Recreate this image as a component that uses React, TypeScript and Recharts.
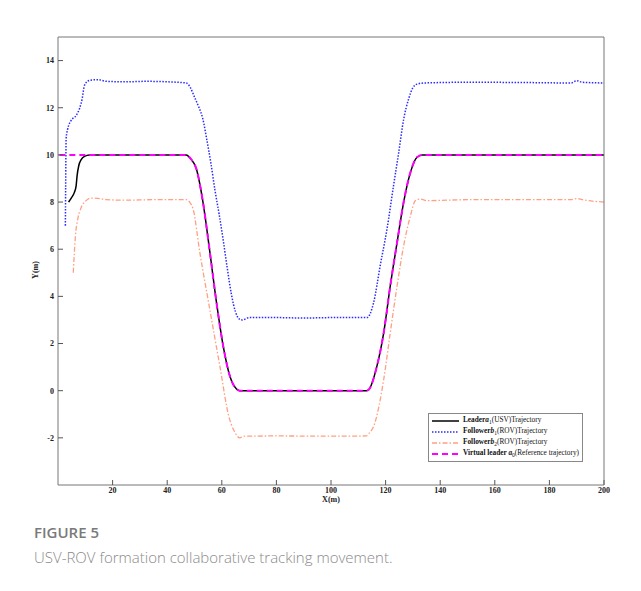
import { LineChart, Line, XAxis, YAxis, Legend } from 'recharts';

// Leader a1 (USV)
const leaderX = [3.9, 4.8, 6.0, 6.65, 7.0, 7.6, 8.5, 9.7, 11.5, 20, 30, 40, 47, 48.5, 50.7, 53.1, 55.6, 58.1, 60.5, 63, 65.4, 66.6, 70, 90, 113, 113.8, 116.8, 119.3, 121.7, 124.2, 126.6, 129.1, 131.5, 133.4, 150, 170, 200];
const leaderY = [8.0, 8.16, 8.41, 8.7, 9.12, 9.54, 9.8, 9.94, 10.0, 10.0, 10.0, 10.0, 10.0, 9.85, 9.4, 8.0, 5.9, 3.7, 1.9, 0.6, 0.07, 0, 0, 0, 0, 0.04, 1.03, 2.45, 4.44, 6.28, 7.99, 9.26, 9.9, 10.0, 10.0, 10.0, 10.0];

// Follower b1 (ROV)
const follower1X = [2.7, 2.8, 2.98, 3.56, 4.81, 6.65, 7.86, 8.85, 9.7, 11.5, 14.6, 17.7, 25, 32, 40, 47, 48.5, 50, 51.5, 53, 54.5, 56, 57.5, 59, 60.5, 62, 63.5, 65, 66.5, 67.5, 70, 80, 90, 100, 110, 113.2, 115.6, 118, 120.5, 122.9, 124.8, 126.6, 128.5, 130, 131.5, 134, 150, 170, 188, 190, 192, 200];
const follower1Y = [7.0, 8.6, 10.7, 11.1, 11.46, 11.67, 11.96, 12.38, 12.95, 13.16, 13.19, 13.12, 13.1, 13.12, 13.1, 13.05, 12.85, 12.45, 12.05, 11.55, 10.65, 9.65, 8.5, 7.5, 6.4, 5.2, 4.1, 3.35, 3.03, 3.0, 3.1, 3.1, 3.08, 3.1, 3.1, 3.1, 3.73, 5.29, 6.85, 8.69, 10.1, 11.5, 12.4, 12.85, 13.0, 13.05, 13.08, 13.07, 13.05, 13.15, 13.08, 13.05];

// Follower b2 (ROV)
const follower2X = [5.6, 6.39, 7.24, 8.49, 10.3, 12.2, 14.6, 17.7, 25, 35, 47, 48.5, 49.5, 51.9, 55.6, 59.3, 62.6, 64.5, 66.6, 68, 80, 100, 113, 114, 115.6, 119.3, 121.7, 124.2, 126.6, 129.1, 130.9, 132.7, 135.2, 150, 170, 188, 190, 192, 200];
const follower2Y = [5.0, 6.57, 7.28, 7.77, 8.06, 8.17, 8.16, 8.1, 8.08, 8.1, 8.1, 7.95, 7.7, 5.9, 3.45, 1.03, -1.1, -1.7, -2.0, -1.93, -1.92, -1.93, -1.92, -1.8, -1.52, 0.47, 2.45, 4.44, 6.14, 7.42, 8.06, 8.13, 8.06, 8.1, 8.1, 8.1, 8.15, 8.1, 8.0];

// Virtual leader a0 (reference trajectory)
const virtualX = [0.5, 20, 40, 47, 48.5, 50.7, 53.1, 55.6, 58.1, 60.5, 63, 65.4, 66.6, 70, 90, 113, 113.8, 116.8, 119.3, 121.7, 124.2, 126.6, 129.1, 131.5, 133.4, 150, 170, 200];
const virtualY = [10, 10, 10, 10, 9.85, 9.4, 8.0, 5.9, 3.7, 1.9, 0.6, 0.07, 0, 0, 0, 0, 0.04, 1.03, 2.45, 4.44, 6.28, 7.99, 9.26, 9.9, 10.0, 10.0, 10.0, 10.0];

const xTicks = [20, 40, 60, 80, 100, 120, 140, 160, 180, 200];
const yTicks = [-2, 0, 2, 4, 6, 8, 10, 12, 14];

const toRows = (xs: number[], ys: number[]) => xs.map((x, i) => ({ x, y: ys[i] }));

const serif = '"Liberation Serif", "Times New Roman", serif';
const tickStyle = { fontFamily: serif, fontSize: 8, fontWeight: 700, fill: '#222' };

const series = [
  { key: 'leader', data: toRows(leaderX, leaderY), color: '#000000', width: 1.5, dash: undefined, name: 'Leader', sym: 'a', sub: '1', rest: '(USV)Trajectory' },
  { key: 'f1', data: toRows(follower1X, follower1Y), color: '#2b2bff', width: 1.5, dash: '1.5 1.5', name: 'Follower', sym: 'b', sub: '1', rest: '(ROV)Trajectory' },
  { key: 'f2', data: toRows(follower2X, follower2Y), color: '#ffa084', width: 1.3, dash: '5 2 1.5 2', name: 'Follower', sym: 'b', sub: '2', rest: '(ROV)Trajectory' },
  { key: 'virtual', data: toRows(virtualX, virtualY), color: '#ff00ff', width: 2, dash: '6 4', name: 'Virtual leader ', sym: 'a', sub: '0', rest: '(Reference trajectory)' },
];

const LegendBox = () => (
  <div
    style={{
      border: '1px solid #888',
      background: '#fff',
      padding: '1px 3px 2px 2px',
      fontFamily: serif,
      fontSize: 7.3,
      color: '#111',
      whiteSpace: 'nowrap',
    }}
  >
    {series.map((s) => (
      <div key={s.key} style={{ display: 'flex', alignItems: 'center', height: 11 }}>
        <svg width={29} height={6} style={{ marginRight: 3 }}>
          <line x1={1} y1={3} x2={28} y2={3} stroke={s.color} strokeWidth={s.width} strokeDasharray={s.dash} />
        </svg>
        <span>
          <b>{s.name}</b>
          <b><i>{s.sym}</i></b>
          <sub style={{ fontSize: 5.5 }}>{s.sub}</sub>
          {s.rest}
        </span>
      </div>
    ))}
  </div>
);

const YLabel = ({ viewBox }: any) => {
  const cx = viewBox.x + 7;
  const cy = viewBox.y + viewBox.height / 2 + 9;
  return (
    <text x={cx} y={cy} transform={`rotate(-90 ${cx} ${cy})`} textAnchor="middle" dominantBaseline="central" style={tickStyle}>
      Y(m)
    </text>
  );
};

const XLabel = ({ viewBox }: any) => {
  const cx = viewBox.x + viewBox.width / 2;
  return (
    <text x={cx} y={viewBox.y + 14} textAnchor="middle" dominantBaseline="central" style={tickStyle}>
      X(m)
    </text>
  );
};

export default function App() {
  return (
    <div style={{ position: 'relative', margin: -8, width: 641, height: 591, overflow: 'hidden', background: '#fff' }}>
      <div
        style={{
          position: 'absolute',
          left: 4,
          top: 4,
          width: 700,
          height: 700,
          borderTop: '1px solid #cfcfcf',
          borderLeft: '1px solid #cfcfcf',
        }}
      />
      <div style={{ position: 'absolute', left: 0, top: 0 }}>
        <LineChart width={641} height={520} margin={{ top: 36, right: 36, left: 28, bottom: 5 }}>
          <XAxis
            xAxisId={0}
            dataKey="x"
            type="number"
            domain={[0, 200]}
            ticks={xTicks}
            allowDataOverflow
            height={30}
            tickSize={-5}
            tickMargin={7}
            tick={tickStyle}
            stroke="#777"
            tickLine={{ stroke: '#555' }}
            label={<XLabel />}
          />
          <XAxis
            xAxisId="top"
            orientation="top"
            dataKey="x"
            type="number"
            domain={[0, 200]}
            ticks={xTicks}
            height={1}
            tickSize={-5}
            tickFormatter={() => ''}
            stroke="#777"
            tickLine={{ stroke: '#555' }}
          />
          <YAxis
            yAxisId={0}
            type="number"
            domain={[-4, 15]}
            ticks={yTicks}
            allowDataOverflow
            width={30}
            tickSize={-5}
            tickMargin={9}
            tick={tickStyle}
            stroke="#777"
            tickLine={{ stroke: '#555' }}
            label={<YLabel />}
          />
          <YAxis
            yAxisId="right"
            orientation="right"
            type="number"
            domain={[-4, 15]}
            ticks={yTicks}
            width={1}
            tickSize={-5}
            tickFormatter={() => ''}
            stroke="#777"
            tickLine={{ stroke: '#555' }}
          />
          <Legend
            layout="vertical"
            align="center"
            verticalAlign="middle"
            wrapperStyle={{ position: 'absolute', left: 428, top: 413, width: 'auto', height: 'auto' }}
            content={() => <LegendBox />}
          />
          {series.map((s) => (
            <Line
              key={s.key}
              data={s.data}
              dataKey="y"
              type="monotone"
              stroke={s.color}
              strokeWidth={s.width}
              strokeDasharray={s.dash}
              dot={false}
              activeDot={false}
              isAnimationActive={false}
              name={s.key}
            />
          ))}
        </LineChart>
      </div>
      <div
        style={{
          position: 'absolute',
          left: 34,
          top: 522,
          fontFamily: '"Open Sans", sans-serif',
          fontWeight: 600,
          fontSize: 15,
          color: '#7a7a7a',
        }}
      >
        FIGURE 5
      </div>
      <div
        style={{
          position: 'absolute',
          left: 34,
          top: 547,
          fontFamily: '"Open Sans", sans-serif',
          fontWeight: 300,
          fontSize: 15,
          color: '#8a8a8a',
          whiteSpace: 'nowrap',
        }}
      >
        USV-ROV formation collaborative tracking movement.
      </div>
    </div>
  );
}
